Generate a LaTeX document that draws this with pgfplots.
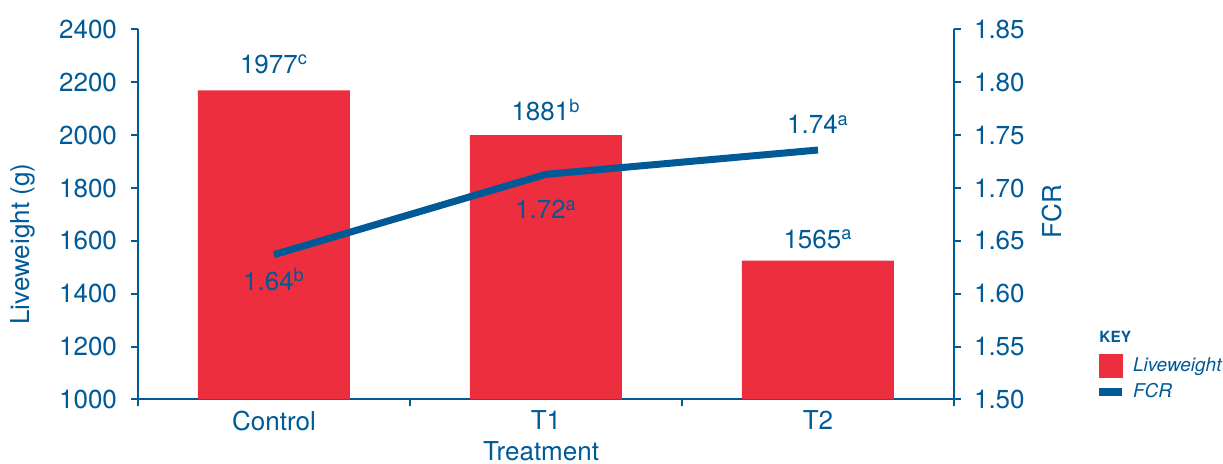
\documentclass[border=0pt]{standalone}
\usepackage{fontspec}
\setmainfont{TeX Gyre Heros}
\usepackage{pgfplots}
\pgfplotsset{compat=1.18}
\definecolor{cblue}{RGB}{0,90,152}
\definecolor{cred}{RGB}{237,46,62}
\newcommand{\lab}{\fontsize{13}{15}\selectfont}
\begin{document}
\begin{tikzpicture}
\useasboundingbox (-69pt,-32.25pt) rectangle (542.5pt,199.75pt);
\begin{axis}[
  at={(0,0)}, anchor=south west,
  scale only axis, width=408pt, height=185pt,
  xmin=-0.5, xmax=2.5, ymin=1000, ymax=2400,
  axis x line=bottom, axis y line=left,
  axis line style={-, draw=cblue, line width=1pt},
  xtick={-0.5,0.5,1.5,2.5}, xticklabels={},
  extra x ticks={0,1,2}, extra x tick labels={Control,T1,T2},
  extra x tick style={major tick length=0pt},
  ytick={1000,1200,...,2400},
  tick align=outside, major tick length=3.5pt,
  tick style={draw=cblue, line width=1pt},
  /pgf/number format/assume math mode=true,
  /pgf/number format/1000 sep={},
  yticklabel style={font=\lab, text=cblue, xshift=-3.5pt},
  xticklabel style={font=\lab, text=cblue, anchor=north, inner sep=0pt, yshift=-5.5pt},
  xlabel={Treatment},
  xlabel style={font=\lab, text=cblue, at={(axis description cs:0.494,0)}, anchor=base, yshift=-30.5pt},
  ylabel={Liveweight (g)},
  ylabel style={font=\lab, text=cblue, at={(axis description cs:-0.1409,0.42)}, anchor=center},
]
\addplot[ybar, bar width=76pt, bar shift=0pt, fill=cred, draw=none] coordinates {(0,2170) (1,2000) (2,1525)};
\node[anchor=base, font=\lab, text=cblue] at (axis cs:0,2235) {1977\textsuperscript{c}};
\node[anchor=base, font=\lab, text=cblue] at (axis cs:1,2054) {1881\textsuperscript{b}};
\node[anchor=base, font=\lab, text=cblue] at (axis cs:2,1573) {1565\textsuperscript{a}};
\node[anchor=base, font=\lab, text=cblue] at (axis cs:2,2005) {1.74\textsuperscript{a}};
\node[anchor=base, font=\lab, text=cblue] at (axis cs:1,1683) {1.72\textsuperscript{a}};
\node[anchor=base, font=\lab, text=cblue] at (axis cs:0,1414) {1.64\textsuperscript{b}};
\end{axis}
\begin{axis}[
  at={(0,0)}, anchor=south west,
  scale only axis, width=408pt, height=185pt,
  xmin=-0.5, xmax=2.5, ymin=1.5, ymax=1.85,
  axis x line=none, axis y line=right,
  axis line style={-, draw=cblue, line width=1pt},
  ytick={1.50,1.55,1.60,1.65,1.70,1.75,1.80,1.85},
  tick align=outside, major tick length=3.5pt,
  tick style={draw=cblue, line width=1pt},
  /pgf/number format/assume math mode=true,
  yticklabel style={font=\lab, text=cblue, xshift=3pt, /pgf/number format/.cd, fixed, fixed zerofill, precision=2},
  ylabel={FCR},
  ylabel style={font=\lab, text=cblue, at={(axis description cs:1.1201,0.507)}, anchor=center},
  clip=false,
  legend cell align=left,
  legend style={at={(axis description cs:1.1728,0.123)}, anchor=north west, draw=none, fill=none,
    inner sep=0pt, outer sep=0pt, row sep=2.85pt, column sep=3.5pt,
    font=\fontsize{9.5}{11}\selectfont\itshape, text=cblue, nodes={inner sep=0pt}},
]
\addlegendimage{legend image code/.code={\fill[cred] (0pt,-5.75pt) rectangle (11.5pt,5.75pt);}}
\addlegendentry{Liveweight}
\addplot[draw=cblue, line width=3.5pt, line join=round,
  legend image code/.code={\draw[cblue, line width=4pt] (0pt,0pt) -- (11.5pt,0pt);}]
  coordinates {(0,1.637) (1,1.713) (2,1.736)};
\addlegendentry{FCR}
\node[anchor=base west, inner sep=0pt, font=\fontsize{7.7}{9}\selectfont\bfseries, text=cblue] at (axis description cs:1.1777,0.1527) {KEY};
\end{axis}
\end{tikzpicture}
\end{document}
